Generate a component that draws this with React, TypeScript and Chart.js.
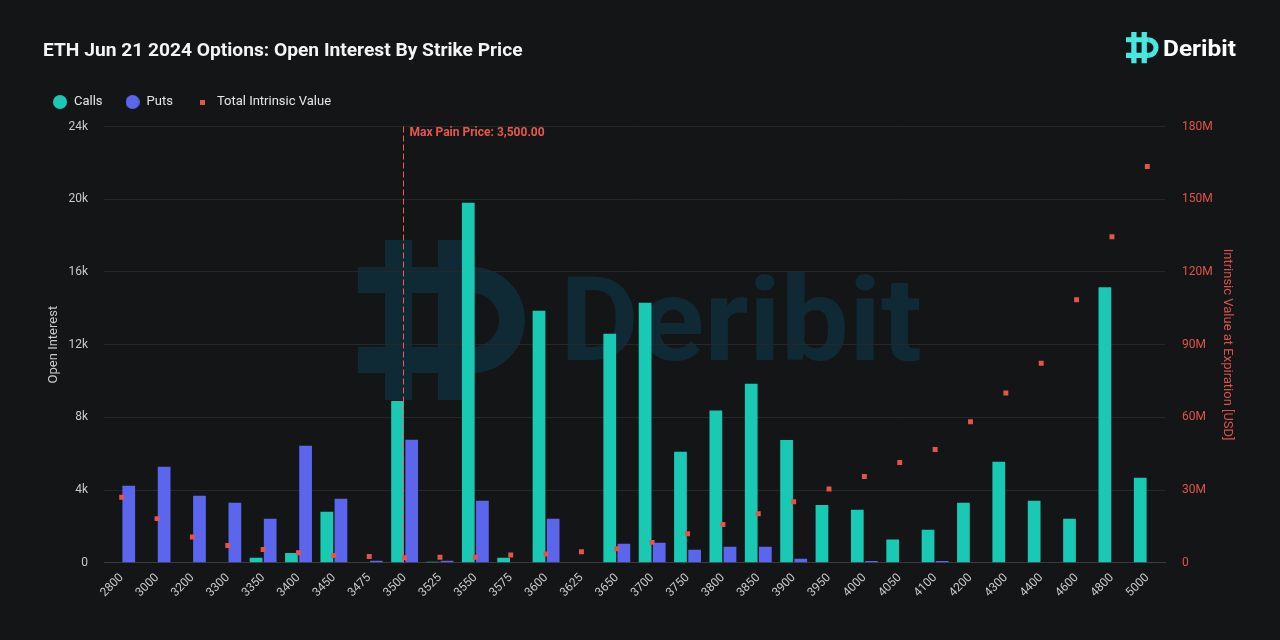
import React, { useEffect, useRef } from 'react';
import { Chart, registerables } from 'chart.js';

Chart.register(...registerables);

const strikes = ['2800', '3000', '3200', '3300', '3350', '3400', '3450', '3475', '3500', '3525', '3550', '3575', '3600', '3625', '3650', '3700', '3750', '3800', '3850', '3900', '3950', '4000', '4050', '4100', '4200', '4300', '4400', '4600', '4800', '5000'];
const callsOI = [0, 0, 0, 0, 280, 530, 2810, 0, 8900, 50, 19800, 280, 13870, 0, 12600, 14300, 6100, 8380, 9850, 6750, 3180, 2920, 1280, 1820, 3300, 5560, 3410, 2420, 15150, 4680];
const putsOI = [4240, 5280, 3690, 3300, 2420, 6440, 3520, 110, 6770, 110, 3410, 0, 2420, 0, 1050, 1100, 720, 880, 880, 220, 0, 100, 0, 100, 0, 0, 0, 0, 0, 0];
const intrinsicUSD = [27.0e6, 18.2e6, 10.6e6, 7.1e6, 5.5e6, 4.1e6, 3.0e6, 2.6e6, 2.1e6, 2.3e6, 2.3e6, 3.2e6, 3.6e6, 4.5e6, 5.8e6, 8.4e6, 12.0e6, 15.8e6, 20.2e6, 25.2e6, 30.4e6, 35.6e6, 41.4e6, 46.7e6, 58.2e6, 70.0e6, 82.3e6, 108.5e6, 134.5e6, 163.5e6];
const maxPainStrike = '3500';
const maxPainLabel = 'Max Pain Price: 3,500.00';
const titleText = 'ETH Jun 21 2024 Options: Open Interest By Strike Price';

const BG = '#141517';
const CALL_COLOR = '#19c9b3';
const PUT_COLOR = '#5b66ec';
const RED = '#e5534b';
const WATERMARK = '#0f2a34';

function drawIcon(ctx: CanvasRenderingContext2D, x: number, y: number, s: number, fill: string | CanvasGradient) {
  ctx.save();
  ctx.translate(x, y);
  ctx.scale(s, s);
  ctx.fillStyle = fill;
  ctx.beginPath();
  ctx.rect(27, 0, 27, 160);
  ctx.rect(80, 0, 27, 160);
  ctx.rect(0, 27, 114, 26);
  ctx.rect(0, 107, 114, 26);
  ctx.fill();
  ctx.beginPath();
  ctx.moveTo(114, 27);
  ctx.arc(114, 80, 53, -Math.PI / 2, Math.PI / 2);
  ctx.lineTo(114, 107);
  ctx.arc(114, 80, 27, Math.PI / 2, -Math.PI / 2, true);
  ctx.closePath();
  ctx.fill();
  ctx.restore();
}

const watermarkPlugin = {
  id: 'watermark',
  beforeInit(chart: any) {
    const legend = chart.legend;
    if (legend && !legend.__patched) {
      const fit = legend.fit;
      legend.fit = function () {
        fit.call(this);
        this.height += 8;
      };
      legend.__patched = true;
    }
  },
  beforeDraw(chart: any) {
    const ctx = chart.ctx as CanvasRenderingContext2D;
    ctx.save();
    ctx.fillStyle = BG;
    ctx.fillRect(0, 0, chart.width, chart.height);
    drawIcon(ctx, 358, 240, 1, WATERMARK);
    ctx.font = 'bold 117px Roboto';
    const w = ctx.measureText('Deribit').width;
    ctx.translate(560, 360);
    ctx.scale(362 / w, 1);
    ctx.fillStyle = WATERMARK;
    ctx.textBaseline = 'alphabetic';
    ctx.textAlign = 'left';
    ctx.fillText('Deribit', 0, 0);
    ctx.restore();

    // top-right brand logo
    const g = ctx.createLinearGradient(1126, 32, 1158, 64);
    g.addColorStop(0, '#45e9e0');
    g.addColorStop(1, '#12b0a2');
    drawIcon(ctx, 1126, 32, 0.195, g);
    ctx.save();
    ctx.font = 'bold 21.5px Roboto';
    const tw = ctx.measureText('Deribit').width;
    ctx.translate(1163, 56);
    ctx.scale(73 / tw, 1);
    ctx.fillStyle = '#ffffff';
    ctx.textBaseline = 'alphabetic';
    ctx.textAlign = 'left';
    ctx.fillText('Deribit', 0, 0);
    ctx.restore();
  },
};

const maxPainPlugin = {
  id: 'maxPain',
  afterDatasetsDraw(chart: any) {
    const ctx = chart.ctx as CanvasRenderingContext2D;
    const { top, bottom } = chart.chartArea;
    const idx = strikes.indexOf(maxPainStrike);
    const x = Math.round(chart.scales.x.getPixelForValue(idx)) - 1.5;
    ctx.save();
    ctx.strokeStyle = '#f05a4f';
    ctx.lineWidth = 1;
    ctx.setLineDash([6, 3]);
    ctx.beginPath();
    ctx.moveTo(x, top);
    ctx.lineTo(x, bottom);
    ctx.stroke();
    ctx.setLineDash([]);
    ctx.font = 'bold 12px Roboto';
    ctx.fillStyle = '#e8574e';
    ctx.textBaseline = 'middle';
    ctx.textAlign = 'left';
    ctx.fillText(maxPainLabel, x + 6, top + 6);
    ctx.restore();
  },
};

function makeCircle(color: string, d: number) {
  const c = document.createElement('canvas');
  c.width = d;
  c.height = d;
  const x = c.getContext('2d')!;
  x.fillStyle = color;
  x.beginPath();
  x.arc(d / 2, d / 2, d / 2, 0, Math.PI * 2);
  x.fill();
  return c;
}
function makeSquare(color: string, d: number) {
  const c = document.createElement('canvas');
  c.width = d;
  c.height = d;
  const x = c.getContext('2d')!;
  x.fillStyle = color;
  x.fillRect(0, 0, d, d);
  return c;
}

export default function App() {
  const ref = useRef<HTMLCanvasElement | null>(null);
  useEffect(() => {
    if (!ref.current) return;
    const legendIcons = [makeCircle(CALL_COLOR, 14), makeCircle(PUT_COLOR, 14), makeSquare(RED, 5)];
    const chart = new Chart(ref.current, {
      type: 'bar',
      data: {
        labels: strikes,
        datasets: [
          { type: 'bar', label: 'Calls', data: callsOI, backgroundColor: CALL_COLOR, yAxisID: 'y', order: 2 },
          { type: 'bar', label: 'Puts', data: putsOI, backgroundColor: PUT_COLOR, yAxisID: 'y', order: 2 },
          {
            type: 'line', label: 'Total Intrinsic Value', data: intrinsicUSD, yAxisID: 'y1', showLine: false,
            pointStyle: 'rect', pointRadius: 3.5, pointBorderWidth: 0, backgroundColor: RED, borderColor: RED, order: 1,
          } as any,
        ],
      },
      options: {
        animation: false,
        responsive: false,
        layout: { padding: { left: 30, right: 29, top: 73, bottom: 32 } },
        plugins: {
          title: { display: false },
          tooltip: { enabled: false },
          legend: {
            position: 'top',
            align: 'start',
            labels: {
              usePointStyle: true,
              pointStyleWidth: 15,
              padding: 22.5,
              color: '#e6e6e6',
              font: { family: 'Roboto', size: 13 },
              sort: (a: any, b: any) => a.datasetIndex - b.datasetIndex,
              generateLabels: (ch: any) => {
                const base = (Chart.defaults.plugins.legend.labels as any).generateLabels(ch);
                return base.map((it: any) => ({ ...it, pointStyle: legendIcons[it.datasetIndex], fontColor: '#e6e6e6' }));
              },
            },
          },
        },
        scales: {
          x: {
            grid: { display: false, drawTicks: false },
            border: { display: true, color: '#3a3b3f' },
            ticks: {
              color: '#c9c9c9', font: { family: 'Roboto', size: 12 }, maxRotation: 45, minRotation: 45, padding: 8, autoSkip: false,
            },
          },
          y: {
            position: 'left',
            min: 0,
            max: 24000,
            grid: { color: '#26272a', drawTicks: false },
            border: { display: false },
            afterFit: (s: any) => { s.width = 74; },
            ticks: {
              stepSize: 4000,
              padding: 16,
              color: '#c9c9c9',
              font: { family: 'Roboto', size: 12 },
              callback: (v: any) => (v === 0 ? '0' : v / 1000 + 'k'),
            },
            title: {
              display: true, text: 'Open Interest', color: '#c9c9c9', font: { family: 'Roboto', size: 13 },
              padding: { top: 16, bottom: 5 },
            },
          },
          y1: {
            position: 'right',
            min: 0,
            max: 180e6,
            grid: { display: false, drawTicks: false },
            border: { display: false },
            afterFit: (s: any) => { s.width = 86; },
            ticks: {
              stepSize: 30e6,
              padding: 17,
              color: '#e0534c',
              font: { family: 'Roboto', size: 12 },
              callback: (v: any) => (v === 0 ? '0' : v / 1e6 + 'M'),
            },
            title: {
              display: true, text: 'Intrinsic Value at Expiration [USD]', color: '#d9524c', font: { family: 'Roboto', size: 13 },
              padding: { top: 16, bottom: 8 },
            },
          },
        },
      },
      plugins: [watermarkPlugin, maxPainPlugin],
    } as any);
    return () => chart.destroy();
  }, []);

  return (
    <div style={{ position: 'fixed', left: 0, top: 0, width: 1280, height: 640, background: BG, overflow: 'hidden' }}>
      <canvas ref={ref} width={1280} height={640} style={{ position: 'absolute', left: 0, top: 0 }} />
      <div
        style={{
          position: 'absolute', left: 43, top: 38, fontFamily: 'Roboto', fontWeight: 700, fontSize: 19.2,
          lineHeight: '24px', color: '#f4f4f4', whiteSpace: 'nowrap',
        }}
      >
        {titleText}
      </div>
    </div>
  );
}
